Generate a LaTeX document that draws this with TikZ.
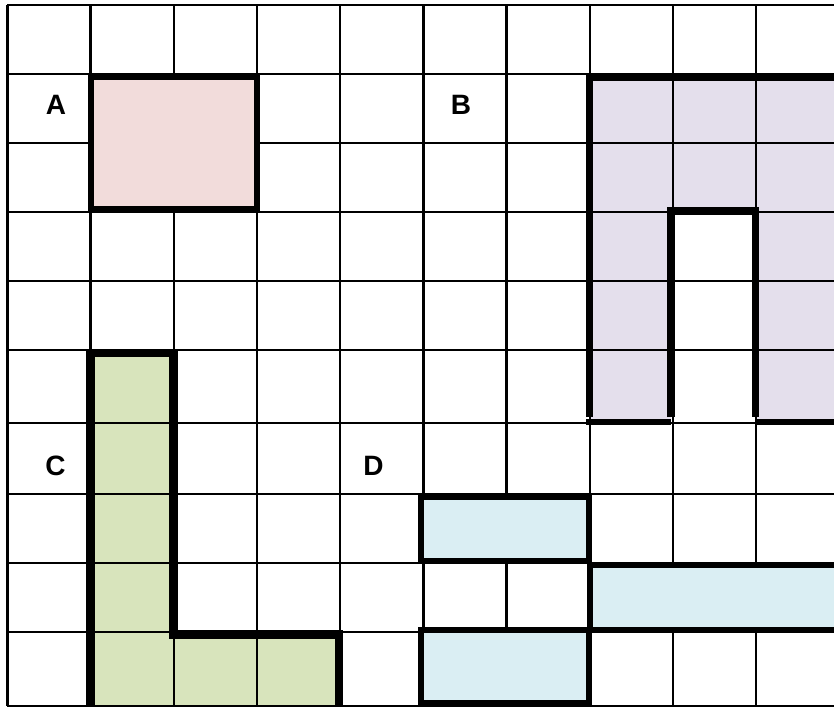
\documentclass[tikz,border=0pt]{standalone}
\usepackage{fontspec}
\setmainfont{Liberation Sans}
\definecolor{fillA}{HTML}{F2DCDB}
\definecolor{fillB}{HTML}{E4DFEC}
\definecolor{fillC}{HTML}{D8E4BC}
\definecolor{fillD}{HTML}{DAEEF3}
\tikzset{
  gridline/.style={line width=2.4pt, draw=black},
  thinout/.style={line width=6pt, draw=black, line cap=rect, line join=miter},
  thickout/.style={line width=7.5pt, draw=black, line cap=butt, line join=miter},
  heavyout/.style={line width=8.5pt, draw=black, line cap=butt, line join=miter},
  lbl/.style={inner sep=0pt, font=\fontsize{28}{30}\selectfont\bfseries}
}
\begin{document}
\begin{tikzpicture}[x=1pt,y=-1pt]
\useasboundingbox (0,0) rectangle (834,708);
\clip (0,0) rectangle (834,708);
\fill[white] (0,0) rectangle (834,708);
% fills that show the grid
\fill[fillB] (589.5,77.5) -- (840,77.5) -- (840,422) -- (755.5,422) -- (755.5,211)
  -- (671,211) -- (671,422) -- (589.5,422) -- cycle;
\fill[fillC] (90.5,353) -- (173.5,353) -- (173.5,634.5) -- (339,634.5) -- (339,706)
  -- (90.5,706) -- cycle;
% grid
\foreach \x in {7.3,90.5,173.7,256.9,340.1,423.3,506.5,589.7,672.9,756.1}
  \draw[gridline] (\x,5) -- (\x,706);
\foreach \y in {5,74,143,212,281,350,423,494,563,632,706}
  \draw[gridline] (7.3,\y) -- (840,\y);
% A
\filldraw[fill=fillA, thinout] (91,77.5) rectangle (257,209.5);
% D
\filldraw[fill=fillD, thinout] (421,496.5) rectangle (589,560.5);
\filldraw[fill=fillD, thinout] (589.5,565) rectangle (850,629.5);
\filldraw[fill=fillD, thinout] (421,629.5) rectangle (589,702.5);
% B outline
\draw[thickout] (589.5,417) -- (589.5,77.5);
\draw[line width=6.5pt, draw=black] (586,77.5) -- (840,77.5);
\draw[thickout] (671,417) -- (671,211) -- (755.5,211) -- (755.5,417);
\draw[line width=6pt, draw=black] (586,422) -- (671,422);
\draw[line width=6pt, draw=black] (755.5,422) -- (840,422);
% C outline
\draw[heavyout] (90.5,706) -- (90.5,353) -- (173.5,353) -- (173.5,634.5)
  -- (339,634.5) -- (339,706);
% labels
\node[lbl] (la) at (56,105) {A};
\node[lbl] (lb) at (461,105.3) {B};
\node[lbl] (lc) at (55.5,465.5) {C};
\node[lbl] (ld) at (373.5,465.5) {D};
\end{tikzpicture}
\end{document}
